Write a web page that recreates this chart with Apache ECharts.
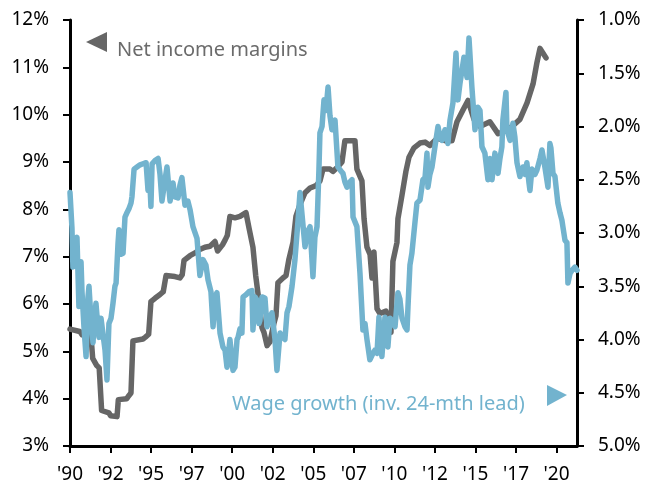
<!DOCTYPE html>
<html><head><meta charset="utf-8">
<script src="https://cdn.jsdelivr.net/npm/echarts@6/dist/echarts.min.js"></script>
<style>html,body{margin:0;padding:0;background:#fff}#c{width:650px;height:487px}</style>
</head><body><div id="c"></div>
<script>
// Net income margins (left axis, %)
const marginYears = [1990.00,1990.60,1990.75,1991.30,1991.40,1991.65,1991.80,1991.95,1992.40,1992.50,1992.90,1992.98,1993.50,1993.60,1993.76,1993.88,1994.50,1994.65,1994.85,1994.99,1995.24,1995.55,1995.75,1995.92,1996.47,1996.78,1996.92,1997.03,1997.40,1997.71,1998.00,1998.32,1998.63,1998.94,1999.10,1999.40,1999.56,1999.70,1999.86,2000.17,2000.48,2000.85,2001.04,2001.28,2001.45,2001.60,2001.84,2001.96,2002.15,2002.33,2002.58,2002.70,2002.82,2003.13,2003.32,2003.50,2003.75,2003.93,2004.18,2004.49,2004.80,2005.17,2005.41,2005.60,2006.03,2006.21,2006.52,2006.77,2006.95,2007.57,2007.69,2008.00,2008.13,2008.31,2008.50,2008.62,2008.74,2008.93,2009.11,2009.48,2009.79,2009.91,2010.16,2010.22,2010.47,2010.71,2010.90,2011.21,2011.58,2011.89,2012.19,2012.63,2013.12,2013.55,2013.86,2014.23,2014.54,2014.91,2015.28,2015.89,2016.39,2016.82,2017.25,2017.74,2018.18,2018.55,2018.79,2018.98,2019.10,2019.35];
const marginValues = [5.47,5.42,5.35,5.30,4.85,4.70,4.65,3.75,3.70,3.64,3.62,3.98,4.00,4.05,4.12,5.22,5.26,5.30,5.36,6.05,6.12,6.20,6.26,6.60,6.58,6.55,6.62,6.92,7.02,7.08,7.15,7.20,7.22,7.32,7.12,7.25,7.35,7.45,7.85,7.82,7.85,7.93,7.60,7.20,6.60,6.20,5.50,5.40,5.12,5.20,5.60,5.75,6.45,6.55,6.60,6.95,7.30,7.85,8.10,8.35,8.45,8.50,8.60,8.85,8.85,8.80,8.90,9.00,9.45,9.45,8.85,8.60,7.80,7.20,7.05,6.55,7.10,5.90,5.80,5.85,5.40,6.90,7.30,7.80,8.30,8.80,9.10,9.30,9.40,9.42,9.35,9.50,9.45,9.45,9.85,10.10,10.30,9.90,9.75,9.85,9.60,9.65,9.75,9.90,10.25,10.65,11.10,11.40,11.40,11.20];
// Wage growth, inverted, 24-month lead (right axis, %)
const wageYears = [1990.00,1990.12,1990.18,1990.31,1990.43,1990.55,1990.68,1990.74,1990.86,1990.99,1991.11,1991.17,1991.29,1991.42,1991.48,1991.60,1991.73,1991.79,1991.91,1992.03,1992.16,1992.28,1992.40,1992.53,1992.65,1992.77,1992.84,1992.96,1993.02,1993.14,1993.27,1993.39,1993.51,1993.64,1993.76,1993.82,1993.95,1994.13,1994.32,1994.50,1994.69,1994.75,1994.81,1994.93,1994.99,1995.06,1995.24,1995.43,1995.55,1995.67,1995.86,1995.98,1996.17,1996.35,1996.47,1996.66,1996.78,1996.90,1997.09,1997.27,1997.40,1997.58,1997.83,1998.01,1998.20,1998.38,1998.51,1998.69,1998.82,1998.94,1999.06,1999.25,1999.43,1999.56,1999.68,1999.86,2000.05,2000.17,2000.30,2000.36,2000.48,2000.60,2000.67,2000.85,2001.04,2001.22,2001.28,2001.41,2001.53,2001.65,2001.71,2001.84,2002.02,2002.15,2002.33,2002.45,2002.64,2002.76,2002.95,2003.13,2003.25,2003.38,2003.50,2003.69,2003.87,2004.06,2004.18,2004.30,2004.49,2004.61,2004.80,2004.98,2005.10,2005.23,2005.35,2005.41,2005.54,2005.66,2005.78,2005.91,2006.03,2006.15,2006.34,2006.52,2006.71,2006.83,2006.95,2007.08,2007.26,2007.39,2007.45,2007.69,2007.88,2008.06,2008.19,2008.31,2008.49,2008.68,2008.80,2008.93,2009.05,2009.11,2009.23,2009.42,2009.60,2009.73,2009.85,2010.04,2010.22,2010.34,2010.47,2010.65,2010.78,2010.84,2010.96,2011.08,2011.27,2011.39,2011.58,2011.76,2011.89,2012.01,2012.07,2012.19,2012.32,2012.50,2012.69,2012.81,2012.93,2013.12,2013.30,2013.43,2013.61,2013.80,2013.92,2014.04,2014.17,2014.29,2014.48,2014.60,2014.78,2014.97,2015.15,2015.28,2015.40,2015.58,2015.77,2015.89,2016.02,2016.20,2016.39,2016.51,2016.63,2016.69,2016.88,2016.94,2017.13,2017.31,2017.43,2017.56,2017.74,2017.93,2018.05,2018.17,2018.30,2018.36,2018.48,2018.67,2018.79,2018.98,2019.10,2019.28,2019.47,2019.59,2019.65,2019.78,2019.90,2020.08,2020.21,2020.33,2020.39,2020.52,2020.64,2020.70,2020.83,2020.95,2021.13,2021.26];
const wageValues = [2.62,2.95,3.32,3.10,3.04,3.69,3.27,3.55,3.88,4.16,3.60,3.50,3.80,4.03,3.85,3.66,3.90,3.98,3.80,3.79,4.10,4.38,3.85,3.80,3.66,3.50,3.47,3.10,2.97,3.20,3.19,2.85,2.81,2.77,2.72,2.66,2.40,2.38,2.36,2.35,2.34,2.34,2.60,2.55,2.75,2.35,2.32,2.30,2.45,2.70,2.50,2.38,2.70,2.53,2.66,2.67,2.55,2.48,2.74,2.70,2.78,2.94,3.05,3.40,3.25,3.30,3.44,3.55,3.88,3.60,3.56,3.94,4.07,4.10,4.26,4.00,4.29,4.26,4.00,3.98,3.90,3.94,3.60,3.58,3.55,3.54,3.91,3.60,3.63,3.85,3.82,3.60,3.61,3.88,3.79,3.75,4.00,4.29,3.94,3.98,4.00,3.75,3.69,3.50,3.25,2.88,2.62,2.62,3.13,3.00,2.94,3.41,3.04,2.94,2.40,2.06,2.00,1.75,1.85,1.63,1.90,2.03,1.94,2.38,2.42,2.44,2.52,2.57,2.52,2.50,2.85,2.94,3.38,3.91,3.85,4.00,4.19,4.13,4.10,4.13,3.79,3.95,4.16,3.79,4.07,3.80,3.82,3.88,3.56,3.62,3.80,3.88,3.91,3.69,3.30,3.19,2.90,2.72,2.69,2.50,2.48,2.25,2.57,2.45,2.38,2.19,2.00,2.10,2.13,2.03,2.16,1.94,1.78,1.31,1.75,1.60,1.47,1.35,1.54,1.17,1.63,2.03,1.82,1.85,2.19,2.25,2.50,2.30,2.50,2.25,2.44,2.30,2.19,1.94,1.68,2.03,2.13,1.97,2.10,2.34,2.47,2.38,2.45,2.34,2.53,2.60,2.40,2.45,2.41,2.30,2.22,2.38,2.57,2.16,2.20,2.44,2.47,2.72,2.81,2.88,2.94,3.07,3.09,3.47,3.38,3.35,3.32,3.35];
const xTickLabels = ["'90","'92","'95","'97","'00","'02","'05","'07","'10","'12","'15","'17","'20"];
const xStart = 1990, xEnd = 2021.26, xStep = 2.5;
const leftMin = 3, leftMax = 12, rightMin = 1, rightMax = 5;
const marginLabel = 'Net income margins';
const wageLabel = 'Wage growth (inv. 24-mth lead)';

const GRAY = '#666666', BLUE = '#72b3ce';
const FONT = 'Noto Sans';
const chart = echarts.init(document.getElementById('c'), null, {renderer: 'canvas'});
const zip = (xs, ys) => xs.map((x, i) => [x, ys[i]]);
const axisLineStyle = {color: '#000', width: 3};
chart.setOption({
  animation: false,
  backgroundColor: '#fff',
  grid: {left: 70, right: 73, top: 20, bottom: 41, containLabel: false},
  xAxis: {
    type: 'value', min: xStart, max: xEnd, interval: xStep,
    axisLine: {show: true, lineStyle: axisLineStyle},
    axisTick: {show: true, inside: false, length: 7, lineStyle: {color: '#000', width: 2}},
    splitLine: {show: false},
    axisLabel: {
      margin: 19, color: '#000', fontFamily: FONT, fontSize: 19,
      showMaxLabel: false,
      formatter: v => {
        const i = Math.round((v - xStart) / xStep);
        return Math.abs(v - xStart - i * xStep) < 1e-6 && xTickLabels[i] ? xTickLabels[i] : '';
      }
    }
  },
  yAxis: [
    {
      type: 'value', min: leftMin, max: leftMax, interval: 1, position: 'left',
      axisLine: {show: true, lineStyle: axisLineStyle},
      axisTick: {show: true, length: 7, lineStyle: {color: '#000', width: 2}},
      splitLine: {show: false},
      axisLabel: {margin: 21, color: '#000', fontFamily: FONT, fontSize: 19, formatter: '{value}%'}
    },
    {
      type: 'value', min: rightMin, max: rightMax, interval: 0.5, position: 'right', inverse: true,
      axisLine: {show: true, lineStyle: axisLineStyle},
      axisTick: {show: true, length: 7, lineStyle: {color: '#000', width: 2}},
      splitLine: {show: false},
      axisLabel: {margin: 21, color: '#000', fontFamily: FONT, fontSize: 19, formatter: v => v.toFixed(1) + '%'}
    }
  ],
  series: [
    {
      name: marginLabel, type: 'line', yAxisIndex: 0, data: zip(marginYears, marginValues),
      showSymbol: false, symbol: 'none', z: 2,
      lineStyle: {color: GRAY, width: 5.5, cap: 'round', join: 'round'}
    },
    {
      name: wageLabel, type: 'line', yAxisIndex: 1, data: zip(wageYears, wageValues),
      showSymbol: false, symbol: 'none', z: 3,
      lineStyle: {color: BLUE, width: 5.5, cap: 'round', join: 'round'}
    }
  ],
  graphic: [
    {type: 'polygon', shape: {points: [[86, 42], [107, 32], [107, 52]]}, style: {fill: GRAY}},
    {type: 'text', left: 117, top: 40, style: {text: marginLabel, fill: '#6b6b6b', font: '20px "Noto Sans"'}},
    {type: 'polygon', shape: {points: [[567, 395], [547, 385], [547, 406]]}, style: {fill: BLUE}},
    {type: 'text', left: 232, top: 394, style: {text: wageLabel, fill: BLUE, font: '20px "Noto Sans"'}}
  ]
});
</script>
</body></html>
